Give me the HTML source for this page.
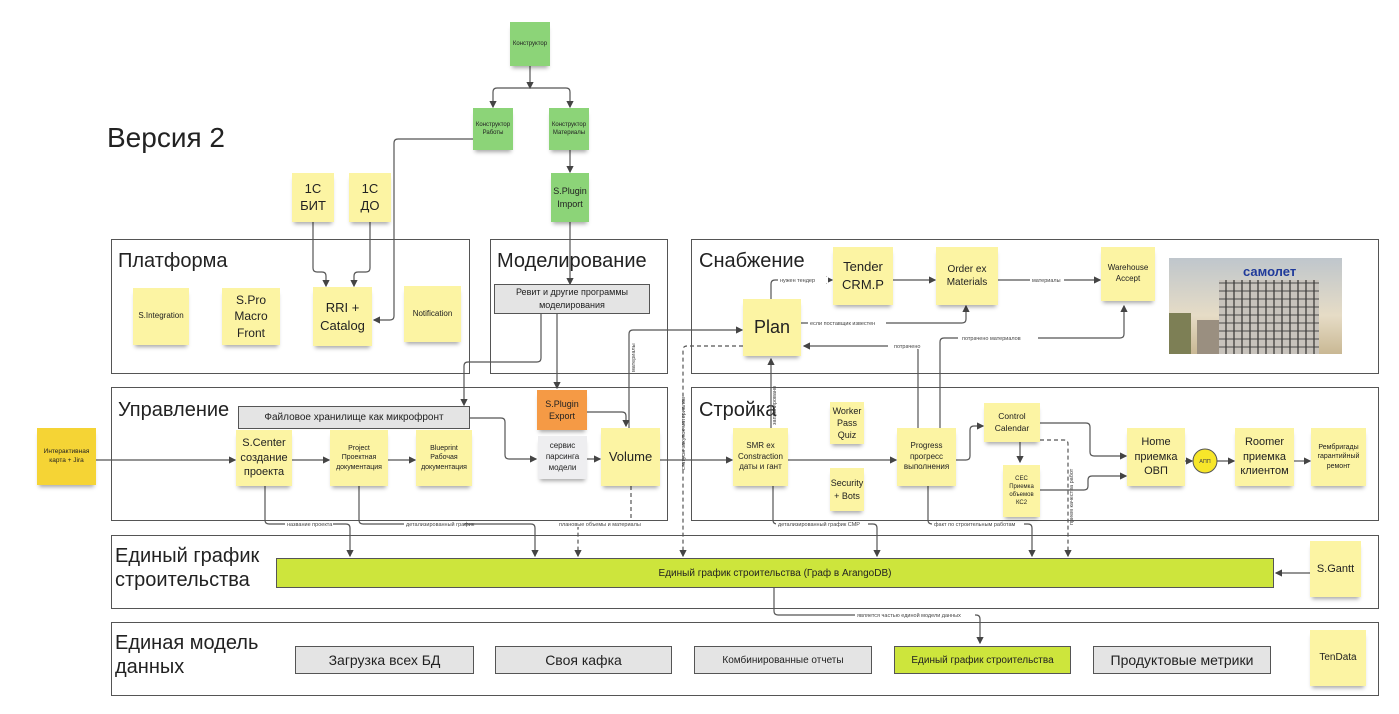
<!DOCTYPE html>
<html><head><meta charset="utf-8"><style>
body{margin:0;width:1399px;height:714px;background:#fff;position:relative;overflow:hidden;font-family:"Liberation Sans","Noto Sans CJK SC",sans-serif;color:#222}
.f{position:absolute;border:1.5px solid #555;box-sizing:border-box;background:#fff}
.t{position:absolute;font-size:20px;line-height:24px;color:#222}
.s{position:absolute;background:#fcf4a3;display:flex;align-items:center;justify-content:center;text-align:center;box-shadow:0 4px 4px -2px rgba(0,0,0,.35);font-size:9px;line-height:1.35;box-sizing:border-box;padding:2px}
.g{background:#8cd478}
.b{position:absolute;background:#e4e4e4;border:1px solid #555;box-sizing:border-box;display:flex;align-items:center;justify-content:center;text-align:center;font-size:14px}
svg{position:absolute;left:0;top:0}
.l{font-size:5.5px;fill:#444;font-family:"Liberation Sans",sans-serif}
</style></head><body>
<div class="t" style="left:107px;top:122px;font-size:28px;line-height:32px">Версия 2</div>

<div class="f" style="left:111px;top:239px;width:359px;height:135px"></div>
<div class="f" style="left:490px;top:239px;width:178px;height:135px"></div>
<div class="f" style="left:691px;top:239px;width:688px;height:135px"></div>
<div class="f" style="left:111px;top:387px;width:557px;height:134px"></div>
<div class="f" style="left:691px;top:387px;width:688px;height:134px"></div>
<div class="f" style="left:111px;top:535px;width:1268px;height:74px"></div>
<div class="f" style="left:111px;top:622px;width:1268px;height:74px"></div>

<div class="t" style="left:118px;top:249px">Платформа</div>
<div class="t" style="left:497px;top:249px">Моделирование</div>
<div class="t" style="left:699px;top:249px">Снабжение</div>
<div class="t" style="left:118px;top:398px">Управление</div>
<div class="t" style="left:699px;top:398px">Стройка</div>
<div class="t" style="left:115px;top:544px">Единый график<br>строительства</div>
<div class="t" style="left:115px;top:631px">Единая модель<br>данных</div>

<svg width="1399" height="714" viewBox="0 0 1399 714">
<defs><marker id="a" markerWidth="6" markerHeight="6" refX="5" refY="3" orient="auto"><path d="M0,0 L6,3 L0,6z" fill="#444"/></marker></defs>
<g fill="none" stroke="#555" stroke-width="1.2" marker-end="url(#a)">
<path d="M530 66V88"/><path d="M530 88H497q-4 0-4 4V107"/><path d="M530 88H566q4 0 4 4V107"/>
<path d="M570 150V172"/>
<path d="M473 139H398q-4 0-4 4V316q0 4-4 4H374"/>
<path d="M313 222V268q0 4 4 4H322q4 0 4 4V286"/>
<path d="M370 222V268q0 4-4 4H358q-4 0-4 4V286"/>
<path d="M570 222V284"/>
<path d="M541 314V358q0 4-4 4H468q-4 0-4 4V405"/>
<path d="M557 314V388"/>
<path d="M629 428V334q0-4 4-4H742"/>
<path d="M587 412H622q4 0 4 4V426"/>
<path d="M470 418H501q4 0 4 4V455q0 4 4 4H536"/>
<path d="M587 459H600"/>
<path d="M96 460H235"/><path d="M292 460H329"/><path d="M388 460H415"/>
<path d="M660 460H732"/><path d="M788 460H896"/>
<path d="M956 460H966q4 0 4-4V430q0-4 4-4H983"/>
<path d="M1040 423H1086q4 0 4 4V452q0 4 4 4H1126"/>
<path d="M1040 490H1084q4 0 4-4V480q0-4 4-4H1126"/>
<path d="M1020 442V462"/>
<path d="M1185 461H1192"/><path d="M1217 461H1234"/><path d="M1294 461H1310"/>
<path d="M771 428V359"/>
<path d="M771 299V284q0-4 4-4H832"/>
<path d="M893 280H935"/><path d="M998 280H1100"/>
<path d="M801 323H962q4 0 4-4V306"/>
<path d="M918 428V350q0-4-4-4H804"/>
<path d="M940 428V342q0-4 4-4H1120q4 0 4-4V306"/>
<path d="M265 486V520q0 4 4 4H346q4 0 4 4V556"/>
<path d="M359 486V520q0 4 4 4H531q4 0 4 4V556"/>
<path d="M773 486V520q0 4 4 4H873q4 0 4 4V556"/>
<path d="M928 486V520q0 4 4 4H1028q4 0 4 4V556"/>
<path d="M1310 573H1276"/>
<path d="M774 588V611q0 4 4 4H976q4 0 4 4V643"/>
</g>
<g fill="none" stroke="#555" stroke-width="1.2" stroke-dasharray="4,3" marker-end="url(#a)">
<path d="M743 346H687q-4 0-4 4V556"/>
<path d="M631 486V524H582q-4 0-4 4V556"/>
<path d="M1040 440H1064q4 0 4 4V556"/>
</g>
<circle cx="1205" cy="461" r="12" fill="#f7e62a" stroke="#555" stroke-width="1"/>
<text x="1205" y="463" class="l" text-anchor="middle">АПП</text>
<g class="l">
<rect x="285" y="521" width="48" height="6" fill="#fff"/><text x="287" y="526">название проекта</text>
<rect x="404" y="521" width="60" height="6" fill="#fff"/><text x="406" y="526">детализированный график</text>
<rect x="557" y="521" width="96" height="6" fill="#fff"/><text x="559" y="526">плановые объемы и материалы</text>
<rect x="776" y="521" width="92" height="6" fill="#fff"/><text x="778" y="526">детализированный график СМР</text>
<rect x="932" y="521" width="92" height="6" fill="#fff"/><text x="934" y="526">факт по строительным работам</text>
<rect x="855" y="612" width="120" height="6" fill="#fff"/><text x="857" y="617">является частью единой модели данных</text>
<rect x="778" y="277" width="50" height="6" fill="#fff"/><text x="780" y="282">нужен тендер</text>
<rect x="1030" y="277" width="34" height="6" fill="#fff"/><text x="1032" y="282">материалы</text>
<rect x="808" y="320" width="78" height="6" fill="#fff"/><text x="810" y="325">если поставщик известен</text>
<rect x="888" y="343" width="40" height="6" fill="#fff"/><text x="894" y="348">потрачено</text>
<rect x="958" y="335" width="80" height="6" fill="#fff"/><text x="962" y="340">потрачено материалов</text>
<text transform="translate(635,372) rotate(-90)">материалы</text>
<text transform="translate(685,470) rotate(-90)">статусы закупок материалов</text>
<text transform="translate(776,425) rotate(-90)">запланировано</text>
<text transform="translate(1073,525) rotate(-90)">прием качества работ</text>
</g>
</svg>

<div class="s g" style="left:510px;top:22px;width:40px;height:44px;font-size:6px">Конструктор</div>
<div class="s g" style="left:473px;top:108px;width:40px;height:42px;font-size:6px">Конструктор Работы</div>
<div class="s g" style="left:549px;top:108px;width:40px;height:42px;font-size:6px">Конструктор Материалы</div>
<div class="s g" style="left:551px;top:173px;width:38px;height:49px">S.Plugin Import</div>
<div class="s" style="left:292px;top:173px;width:42px;height:49px;font-size:13px;line-height:1.3">1С<br>БИТ</div>
<div class="s" style="left:349px;top:173px;width:42px;height:49px;font-size:13px;line-height:1.3">1С<br>ДО</div>
<div class="s" style="left:133px;top:288px;width:56px;height:57px;font-size:8px">S.Integration</div>
<div class="s" style="left:222px;top:288px;width:58px;height:57px;font-size:12px">S.Pro Macro Front</div>
<div class="s" style="left:313px;top:287px;width:59px;height:59px;font-size:13px">RRI +<br>Catalog</div>
<div class="s" style="left:404px;top:286px;width:57px;height:56px;font-size:8px">Notification</div>
<div class="b" style="left:494px;top:284px;width:156px;height:30px;font-size:9px;line-height:1.4">Ревит и другие программы моделирования</div>
<div class="s" style="left:743px;top:299px;width:58px;height:57px;font-size:18px">Plan</div>
<div class="s" style="left:833px;top:247px;width:60px;height:58px;font-size:13px">Tender CRM.P</div>
<div class="s" style="left:936px;top:247px;width:62px;height:58px;font-size:10px">Order ex Materials</div>
<div class="s" style="left:1101px;top:247px;width:54px;height:54px;font-size:8px">Warehouse Accept</div>
<div style="position:absolute;left:1169px;top:258px;width:173px;height:96px;background:linear-gradient(#bfc6cc,#e6dcc6 60%,#c9b894);overflow:hidden">
<div style="position:absolute;left:50px;top:22px;width:100px;height:74px;background:repeating-linear-gradient(90deg,#c8c3bc 0 6px,#6f6c68 6px 8px)"></div>
<div style="position:absolute;left:50px;top:22px;width:100px;height:74px;background:repeating-linear-gradient(0deg,transparent 0 6px,rgba(60,60,60,.45) 6px 8px)"></div>
<div style="position:absolute;left:0;top:55px;width:22px;height:41px;background:#7d7f55"></div>
<div style="position:absolute;left:28px;top:62px;width:22px;height:34px;background:#9a8f80"></div>
<div style="position:absolute;left:74px;top:6px;font-size:13px;font-weight:bold;color:#1f3a9a">самолет</div></div>
<div class="s" style="left:37px;top:428px;width:59px;height:57px;background:#f5d435;font-size:6.5px">Интерактивная карта + Jira</div>
<div class="b" style="left:238px;top:406px;width:232px;height:23px;font-size:10px">Файловое хранилище как микрофронт</div>
<div class="s" style="left:236px;top:430px;width:56px;height:56px;font-size:11px">S.Center создание проекта</div>
<div class="s" style="left:330px;top:430px;width:58px;height:56px;font-size:7px">Project Проектная документация</div>
<div class="s" style="left:416px;top:430px;width:56px;height:56px;font-size:7px">Blueprint Рабочая документация</div>
<div class="s" style="left:537px;top:390px;width:50px;height:40px;background:#f59a45;font-size:9px">S.Plugin Export</div>
<div class="s" style="left:538px;top:436px;width:49px;height:43px;background:#eeeef0;font-size:8px">сервис парсинга модели</div>
<div class="s" style="left:601px;top:428px;width:59px;height:58px;font-size:13px">Volume</div>
<div class="s" style="left:733px;top:428px;width:55px;height:58px;font-size:8px">SMR ex Constraction даты и гант</div>
<div class="s" style="left:830px;top:402px;width:34px;height:42px;font-size:9px">Worker Pass Quiz</div>
<div class="s" style="left:830px;top:468px;width:34px;height:43px;font-size:9px">Security + Bots</div>
<div class="s" style="left:897px;top:428px;width:59px;height:58px;font-size:8px">Progress прогресс выполнения</div>
<div class="s" style="left:984px;top:403px;width:56px;height:39px;font-size:8.5px">Control Calendar</div>
<div class="s" style="left:1003px;top:465px;width:37px;height:52px;font-size:6px">СЕС Приемка объемов КС2</div>
<div class="s" style="left:1127px;top:428px;width:58px;height:58px;font-size:11px">Home приемка ОВП</div>
<div class="s" style="left:1235px;top:428px;width:59px;height:58px;font-size:11px">Roomer приемка клиентом</div>
<div class="s" style="left:1311px;top:428px;width:55px;height:58px;font-size:7px">Рембригады гарантийный ремонт</div>
<div class="b" style="left:276px;top:558px;width:998px;height:30px;background:#cde53c;font-size:10px">Единый график строительства (Граф в ArangoDB)</div>
<div class="s" style="left:1310px;top:541px;width:51px;height:56px;font-size:11px">S.Gantt</div>
<div class="b" style="left:295px;top:646px;width:179px;height:28px">Загрузка всех БД</div>
<div class="b" style="left:495px;top:646px;width:177px;height:28px">Своя кафка</div>
<div class="b" style="left:694px;top:646px;width:178px;height:28px;font-size:10px">Комбинированные отчеты</div>
<div class="b" style="left:894px;top:646px;width:177px;height:28px;font-size:10px;background:#cde53c">Единый график строительства</div>
<div class="b" style="left:1093px;top:646px;width:178px;height:28px">Продуктовые метрики</div>
<div class="s" style="left:1310px;top:630px;width:56px;height:56px;font-size:10px">TenData</div>
</body></html>
